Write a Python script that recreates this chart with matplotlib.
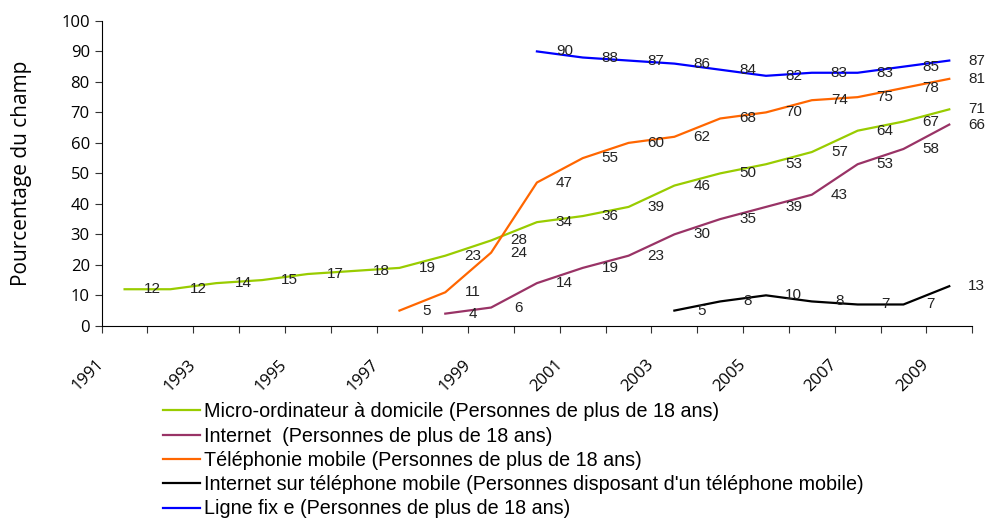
import numpy as np
import matplotlib
matplotlib.use('Agg')
import matplotlib.pyplot as plt

# valeurs (points au milieu de l'année)
annees_micro = [1991.5 + i for i in range(19)]
micro = [12, 12, 14, 15, 17, 18, 19, 23, 28, 34, 36, 39, 46, 50, 53, 57, 64, 67, 71]
annees_internet = [1998.5 + i for i in range(12)]
internet = [4, 6, 14, 19, 23, 30, 35, 39, 43, 53, 58, 66]
annees_mobile = [1997.5 + i for i in range(13)]
mobile = [5, 11, 24, 47, 55, 60, 62, 68, 70, 74, 75, 78, 81]
annees_int_mob = [2003.5 + i for i in range(7)]
int_mob = [5, 8, 10, 8, 7, 7, 13]
annees_fixe = [2000.5 + i for i in range(10)]
fixe = [90, 88, 87, 86, 84, 82, 83, 83, 85, 87]

labels = ["Micro-ordinateur à domicile (Personnes de plus de 18 ans)",
          "Internet  (Personnes de plus de 18 ans)",
          "Téléphonie mobile (Personnes de plus de 18 ans)",
          "Internet sur téléphone mobile (Personnes disposant d'un téléphone mobile)",
          "Ligne fix e (Personnes de plus de 18 ans)"]
couleurs = ['#99CC00', '#993366', '#FF6600', '#000000', '#0000FF']
series = [(annees_micro, micro), (annees_internet, internet), (annees_mobile, mobile),
          (annees_int_mob, int_mob), (annees_fixe, fixe)]

fig = plt.figure(figsize=(9.91, 5.23), dpi=100)
ax = fig.add_axes([0.1026, 0.377, 0.8784, 0.583])

lignes = []
for (xs, ys), c, lab in zip(series, couleurs, labels):
    l, = ax.plot(xs, ys, color=c, lw=1.6, label=lab)
    lignes.append(l)
    for x, y in zip(xs, ys):
        ax.text(x + 0.6, y, str(y), fontsize=11, ha='center', va='center',
                family=['Liberation Sans', 'DejaVu Sans'], color='#222222')

ax.set_xlim(1991, 2010)
ax.set_ylim(0, 100)
ax.set_yticks(range(0, 101, 10))
ax.set_xticks(range(1991, 2011))
ax.set_xticklabels([str(a) if (a - 1991) % 2 == 0 and a < 2010 else '' for a in range(1991, 2011)],
                   rotation=45, ha='right', va='center', rotation_mode='anchor',
                   family=['Open Sans', 'DejaVu Sans'], fontsize=12)
for t in ax.get_yticklabels():
    t.set_fontsize(12)
    t.set_family(['Open Sans', 'DejaVu Sans'])
ax.tick_params(axis='both', direction='out', length=5, color='#333333')
ax.tick_params(axis='x', pad=21)
ax.spines['top'].set_visible(False)
ax.spines['right'].set_visible(False)
ax.set_ylabel('Pourcentage du champ', fontsize=15, family=['Open Sans', 'DejaVu Sans'])
ax.yaxis.set_label_coords(-0.080, 0.5)

fig.legend(handles=lignes, loc='upper left', bbox_to_anchor=(0.1645, 0.231),
           frameon=False, handlelength=1.9, handletextpad=0.18,
           labelspacing=0.27, borderpad=0, borderaxespad=0,
           prop={'family': ['Liberation Sans', 'DejaVu Sans'], 'size': 14.2})

fig.savefig('out.png', dpi=100)
